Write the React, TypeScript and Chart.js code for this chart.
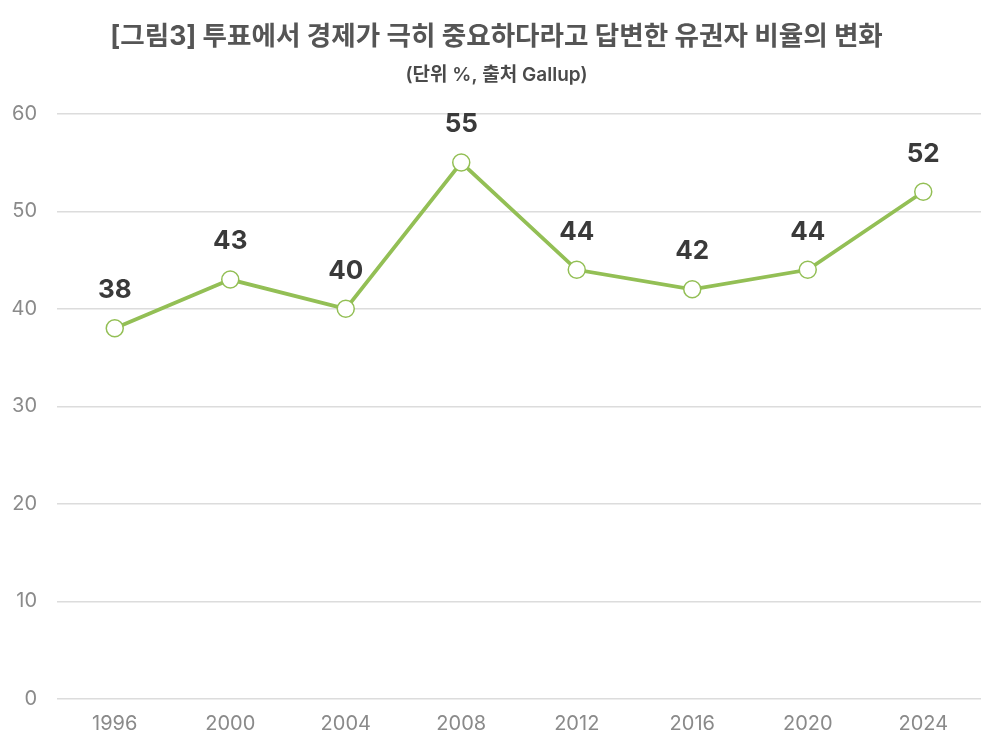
import React, { useEffect, useRef } from "react";
import { Chart, registerables } from "chart.js";

Chart.register(...registerables);

const years: string[] = ["1996", "2000", "2004", "2008", "2012", "2016", "2020", "2024"];
const shares: number[] = [38, 43, 40, 55, 44, 42, 44, 52];
const titleText = "[그림3] 투표에서 경제가 극히 중요하다라고 답변한 유권자 비율의 변화";
const subtitleText = "(단위 %, 출처 Gallup)";

const FONT = "Inter, 'Noto Sans CJK KR', 'Noto Sans', sans-serif";

const valueLabels = {
  id: "valueLabels",
  afterDatasetsDraw(chart: any) {
    const ctx = chart.ctx;
    const meta = chart.getDatasetMeta(0);
    ctx.save();
    ctx.font = `bold 26px ${FONT}`;
    ctx.fillStyle = "#3a3a3a";
    ctx.textAlign = "center";
    ctx.textBaseline = "middle";
    meta.data.forEach((pt: any, i: number) => {
      ctx.fillText(String(chart.data.datasets[0].data[i]), pt.x, pt.y - 38);
    });
    ctx.restore();
  },
};

export default function App() {
  const ref = useRef<HTMLCanvasElement>(null);
  useEffect(() => {
    document.body.style.margin = "0";
    const chart = new Chart(ref.current!, {
      type: "line",
      data: {
        labels: years,
        datasets: [
          {
            data: shares,
            borderColor: "#93bf55",
            borderWidth: 3.8,
            backgroundColor: "#ffffff",
            pointBackgroundColor: "#ffffff",
            pointBorderColor: "#93bf55",
            pointBorderWidth: 1.5,
            pointRadius: 8.5,
            tension: 0,
          },
        ],
      },
      options: {
        animation: false,
        responsive: false,
        layout: { padding: { left: 12, right: 19, top: 0, bottom: 14 } },
        plugins: {
          legend: { display: false },
          tooltip: { enabled: false },
          title: {
            display: true,
            text: titleText,
            color: "#555555",
            font: { family: FONT, size: 26.6, weight: "bold" },
            padding: { top: 21, bottom: 11 },
          },
          subtitle: {
            display: true,
            text: subtitleText,
            color: "#4a4a4a",
            font: { family: FONT, size: 19, weight: 600 },
            padding: { top: 0, bottom: 27 },
          },
        },
        scales: {
          x: {
            offset: true,
            afterFit: (scale: any) => {
              scale.height = 37;
            },
            grid: { display: false, drawTicks: false },
            border: { display: false },
            ticks: { color: "#8a8a8a", font: { family: FONT, size: 20 }, padding: 13 },
          },
          y: {
            min: 0,
            max: 60,
            afterFit: (scale: any) => {
              scale.width = 45;
            },
            ticks: { stepSize: 10, color: "#8a8a8a", font: { family: FONT, size: 20 }, padding: 20 },
            grid: { color: "#dcdcdc", lineWidth: 1.5, drawTicks: false },
            border: { display: false },
          },
        },
      },
      plugins: [valueLabels],
    });
    return () => chart.destroy();
  }, []);
  return (
    <div style={{ width: 1000, height: 750, background: "#fff" }}>
      <canvas ref={ref} width={1000} height={750} style={{ width: 1000, height: 750 }} />
    </div>
  );
}
